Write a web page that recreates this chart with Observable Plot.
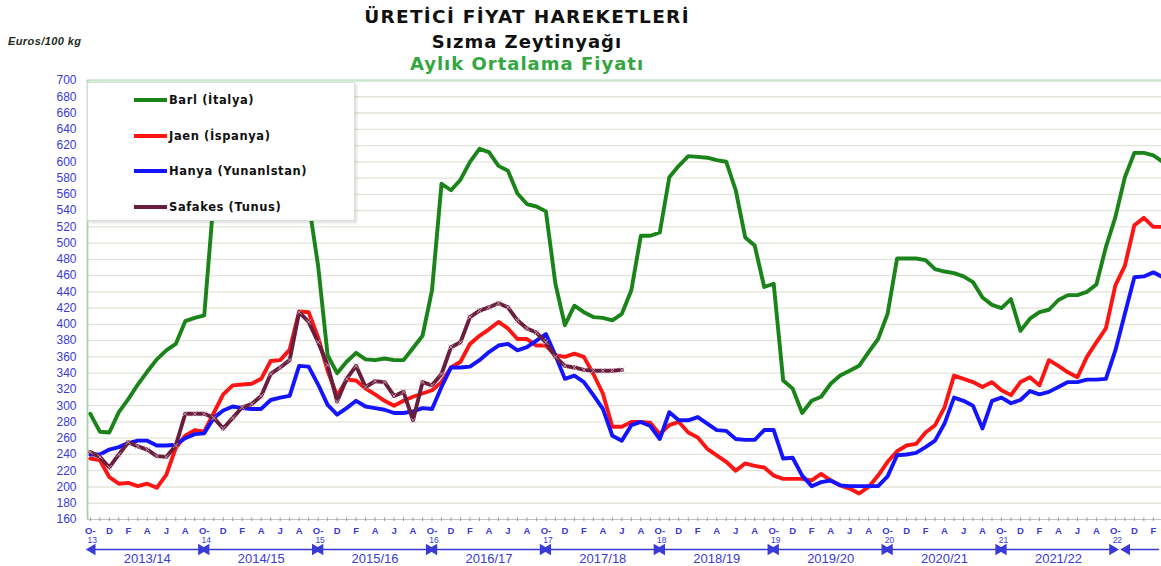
<!DOCTYPE html>
<html><head><meta charset="utf-8">
<script src="https://cdn.jsdelivr.net/npm/d3@7"></script>
<script src="https://cdn.jsdelivr.net/npm/@observablehq/plot@0.6"></script>
<style>
body{margin:0;background:#fff;}
#wrap{position:relative;width:1161px;height:566px;overflow:hidden;font-family:"DejaVu Sans",Verdana,sans-serif;background:#fff;}
#wrap svg{position:absolute;left:0;top:0;}
.t{position:absolute;left:0;width:1054px;text-align:center;font-weight:bold;white-space:nowrap;line-height:1;}
#unit{position:absolute;left:8px;top:35px;font-size:11px;letter-spacing:0.4px;font-style:italic;font-weight:bold;color:#1d2b1d;font-family:"Liberation Sans",Arial,sans-serif;}
#legend{position:absolute;left:87px;top:82px;width:268px;height:139px;background:#fff;border:1px solid #d6e2d6;box-shadow:2px 2px 2px rgba(0,0,0,0.12);box-sizing:border-box;}
.lr{position:absolute;left:0;height:14px;}
.sw{position:absolute;left:46px;top:5px;width:33px;height:4px;}
.lt{position:absolute;left:81px;top:0;font-size:11.5px;letter-spacing:0.6px;font-weight:bold;color:#111;white-space:nowrap;line-height:14px;}
</style></head>
<body><div id="wrap"></div>
<script>
// Months indexed from Oct 2013 (index 0) to Mar 2023 (index 113)
const startMonth = "2013-10";
const seriesNames = ["Barl (İtalya)", "Jaen (İspanya)", "Hanya (Yunanlstan)", "Safakes (Tunus)"];
const seriesColors = ["#1a841a", "#ff1414", "#1414ff", "#6a1e3e"];

const bari = [290,268,267,292,308,326,342,357,368,376,404,408,411,555,610,640,655,660,650,640,630,620,600,550,
  472,362,340,354,365,357,356,358,356,356,371,386,442,573,565,578,600,616,612,595,589,561,548,545,
  539,450,399,423,415,409,408,405,413,442,509,509,513,581,595,607,606,605,602,600,565,507,497,446,
  450,331,321,291,306,311,327,337,343,349,366,382,413,481,481,481,479,468,465,463,459,452,433,424,
  420,431,392,407,415,418,430,436,436,440,449,495,532,581,611,611,608,600];
const jaen = [235,233,212,204,205,201,204,199,215,248,263,270,268,291,314,325,326,327,333,355,356,369,416,415,
  384,343,312,332,331,321,314,306,300,306,311,315,319,329,347,354,376,386,394,403,395,382,382,374,
  374,362,360,364,360,339,315,274,274,280,280,279,265,276,280,267,261,247,239,231,220,229,226,224,
  214,210,210,210,208,216,208,202,198,192,200,214,231,244,251,253,267,276,298,337,333,329,323,329,
  319,313,329,335,325,356,349,341,335,360,378,395,448,472,522,531,520,520];
const hanya = [240,240,246,249,254,257,257,251,251,252,260,265,266,285,294,299,297,296,296,307,310,312,349,348,
  326,301,289,297,306,299,297,295,291,291,293,297,296,323,347,347,348,356,366,374,376,368,372,380,
  388,362,333,337,329,313,296,263,257,276,280,275,259,292,282,282,286,278,270,269,259,258,258,270,
  270,235,236,214,201,206,208,202,201,201,201,201,213,239,240,242,249,257,278,310,306,300,272,306,
  310,303,307,318,314,317,323,329,329,332,332,333,368,413,458,459,464,458];
const safakes = [243,237,224,240,255,250,246,238,237,251,290,290,290,285,272,285,298,302,312,339,347,356,415,403,
  378,350,305,333,349,323,330,329,312,317,282,329,325,339,372,378,409,417,421,426,421,405,395,390,
  378,360,349,347,344,343,343,343,344];

const monthLetters = ["O-","D","F","A","J","A"];
const yearLabels = ["13","14","15","16","17","18","19","20","21","22"];
const seasonLabels = ["2013/14","2014/15","2015/16","2016/17","2017/18","2018/19","2019/20","2020/21","2021/22"];
const yTicks = d3.range(160, 701, 20);

const allSeries = [bari, jaen, hanya, safakes];
const rows = [];
allSeries.forEach((arr, i) => arr.forEach((v, m) => rows.push({series: seriesNames[i], m, v})));
const safRows = safakes.map((v, m) => ({m, v}));

const allMonths = d3.range(0, 113);
const evenMonths = d3.range(0, 113, 2);
const yearMonths = yearLabels.map((_, i) => i * 12);
const seasons = seasonLabels.map((s, i) => ({label: s, a: i * 12 + 0.2, b: i * 12 + 11.7, c: i * 12 + 6}));
const lastArrow = {a: 9 * 12 + 1.2, b: 112.6};
const links = seasons.map(d => ({a: d.a, b: d.b})).concat([lastArrow]);
const heads = seasons.flatMap(d => [{x: d.a, r: -90}, {x: d.b, r: 90}]).concat([{x: lastArrow.a, r: -90}]);

const axisBlue = "#3a3ad6";

const chart = Plot.plot({
  width: 1161,
  height: 566,
  marginTop: 80,
  marginBottom: 47,
  marginLeft: 87,
  marginRight: 0,
  style: {background: "transparent", fontFamily: "'Liberation Sans', Arial, sans-serif", overflow: "visible"},
  x: {type: "linear", domain: [-0.3, 112.86], axis: null},
  y: {type: "linear", domain: [160, 700], axis: null},
  color: {domain: seriesNames, range: seriesColors},
  marks: [
    Plot.ruleY(yTicks.filter(d => d > 160 && d < 700), {y: d => d, stroke: "#e3e3da", strokeWidth: 1.3}),
    Plot.ruleY([700], {y: d => d, stroke: "#cde4cd", strokeWidth: 2.5}),
    Plot.ruleY([160], {y: d => d, stroke: "#c2c2c2", strokeWidth: 1}),
    Plot.ruleX([-0.3], {x: d => d, stroke: "#a6d4a6", strokeWidth: 1.8}),
    Plot.ruleX(allMonths, {x: d => d, y1: 157.5, y2: 162, stroke: "#9a9a9a", strokeWidth: 1, clip: false}),
    Plot.line(rows, {x: "m", y: "v", z: "series", stroke: "series", strokeWidth: 3.9, strokeLinejoin: "round", strokeLinecap: "round", clip: true}),
    Plot.dot(safRows, {x: "m", y: "v", symbol: "times", r: 2.4, stroke: "#c79aae", strokeWidth: 1, clip: true}),
    Plot.text(yTicks, {x: -0.3, y: d => d, dx: -11, textAnchor: "end", text: d => String(d), fill: axisBlue, fontSize: 12, clip: false}),
    Plot.text(evenMonths, {x: d => d, y: 160, dy: 11, text: d => monthLetters[(d / 2) % 6], fill: axisBlue, fontSize: 9.5, fontWeight: "bold", clip: false}),
    Plot.text(yearMonths, {x: d => d, y: 160, dy: 21, dx: 2, text: (d, i) => yearLabels[i], fill: axisBlue, fontSize: 8.5, clip: false}),
    Plot.link(links, {x1: "a", x2: "b", y1: 160, y2: 160, dy: 30, stroke: axisBlue, strokeWidth: 1.6, clip: false}),
    Plot.dot(heads, {x: "x", y: 160, dy: 30, symbol: "triangle", rotate: "r", r: 4.2, fill: axisBlue, stroke: "none", clip: false}),
    Plot.text(seasons, {x: "c", y: 160, dy: 39, text: "label", fill: axisBlue, fontSize: 13, clip: false})
  ]
});

const wrap = document.getElementById("wrap");
wrap.appendChild(chart);

function addDiv(cls, id, text, styles) {
  const d = document.createElement("div");
  if (cls) d.className = cls;
  if (id) d.id = id;
  d.textContent = text;
  Object.assign(d.style, styles || {});
  wrap.appendChild(d);
  return d;
}
addDiv("t", null, "ÜRETİCİ FİYAT HAREKETLERİ", {top: "8px", fontSize: "18.5px", letterSpacing: "1.3px", color: "#111"});
addDiv("t", null, "Sızma Zeytinyağı", {top: "33px", fontSize: "18px", letterSpacing: "1px", color: "#111"});
addDiv("t", null, "Aylık Ortalama Fiyatı", {top: "55px", fontSize: "18px", letterSpacing: "1px", color: "#33a640"});
addDiv(null, "unit", "Euros/100 kg");

const legend = document.createElement("div");
legend.id = "legend";
const rowTops = [10, 46, 81, 117];
seriesNames.forEach((name, i) => {
  const r = document.createElement("div");
  r.className = "lr";
  r.style.top = rowTops[i] + "px";
  r.style.width = "260px";
  const sw = document.createElement("div");
  sw.className = "sw";
  sw.style.background = seriesColors[i];
  const t = document.createElement("div");
  t.className = "lt";
  t.textContent = name;
  r.appendChild(sw);
  r.appendChild(t);
  legend.appendChild(r);
});
wrap.appendChild(legend);
</script>
</body></html>
